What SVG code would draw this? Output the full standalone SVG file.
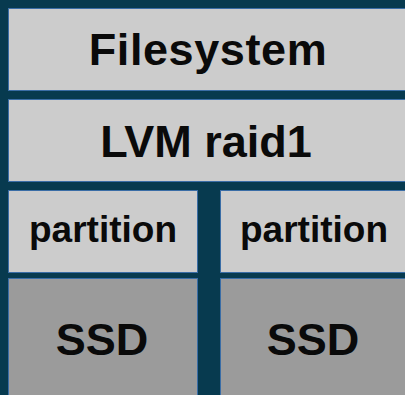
<svg xmlns="http://www.w3.org/2000/svg" width="405" height="395" viewBox="0 0 405 395">
<style>
.box{fill:#cccccc;stroke:#3a6da6;stroke-width:1}
.ssd{fill:#9b9b9b;stroke:#3a6da6;stroke-width:1}
text{font-family:"Liberation Sans",Arial,sans-serif;font-weight:bold;fill:#0a0a0a;text-anchor:middle}
.big{font-size:45px}
.mid{font-size:37px}
</style>
<rect width="405" height="395" fill="#073a4f"/>
<g id="filesystem">
<rect class="box" x="8.5" y="8.5" width="400" height="82"/>
<text class="big" x="208" y="65" letter-spacing="0.6">Filesystem</text>
</g>
<g id="lvm">
<rect class="box" x="8.5" y="99.5" width="400" height="82"/>
<text class="big" x="206" y="157">LVM raid1</text>
</g>
<g id="partition1">
<rect class="box" x="8.5" y="190.5" width="189" height="82"/>
<text class="mid" x="103" y="242">partition</text>
</g>
<g id="partition2">
<rect class="box" x="220.5" y="190.5" width="188" height="82"/>
<text class="mid" x="314" y="242">partition</text>
</g>
<g id="ssd1">
<rect class="ssd" x="8.5" y="278.5" width="189" height="130"/>
<text class="big" x="102" y="355" letter-spacing="0">SSD</text>
</g>
<g id="ssd2">
<rect class="ssd" x="220.5" y="278.5" width="188" height="130"/>
<text class="big" x="313" y="355">SSD</text>
</g>
<g id="connectors"></g>
</svg>
